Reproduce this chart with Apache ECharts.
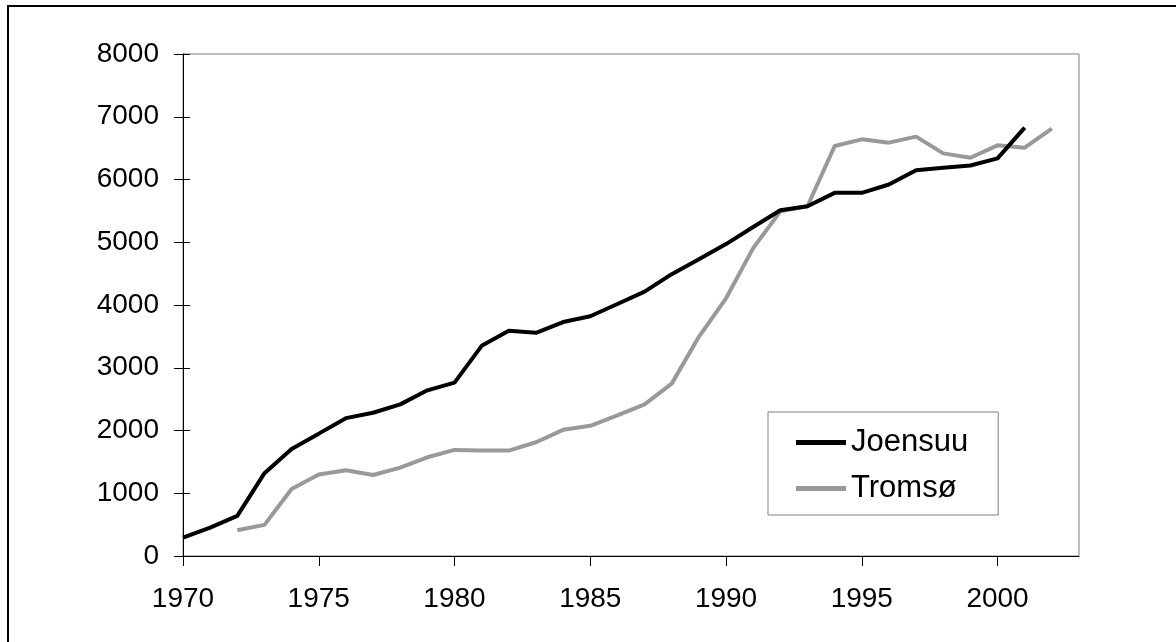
<!DOCTYPE html>
<html>
<head>
<meta charset="utf-8">
<script src="https://cdn.jsdelivr.net/npm/echarts@6/dist/echarts.min.js"></script>
<style>
html,body{margin:0;padding:0;background:#fff;}
#c{width:1176px;height:642px;}
</style>
</head>
<body>
<div id="c"></div>
<script>
const joensuuStart = 1970;
const joensuu = [293, 453, 640, 1320, 1707, 1950, 2197, 2283, 2416, 2640, 2763, 3349, 3589, 3557, 3728, 3820, 4016, 4213, 4491, 4731, 4971, 5243, 5510, 5573, 5787, 5787, 5920, 6149, 6187, 6224, 6336, 6827];
const tromsoStart = 1972;
const tromso = [411, 496, 1067, 1300, 1365, 1291, 1408, 1573, 1691, 1680, 1680, 1813, 2011, 2075, 2240, 2416, 2747, 3493, 4107, 4907, 5493, 5573, 6533, 6640, 6587, 6683, 6416, 6347, 6544, 6507, 6811];
const seriesNames = ['Joensuu', 'Tromsø'];
const xMin = 1970, xMax = 2003, xStep = 5;
const yMin = 0, yMax = 8000, yStep = 1000;

const pairs = (start, arr) => arr.map((v, i) => [start + i, v]);
const FONT = 'Liberation Sans, Arial, sans-serif';

const chart = echarts.init(document.getElementById('c'));
chart.setOption({
  animation: false,
  backgroundColor: '#fff',
  grid: { left: 183, top: 54, right: 97, bottom: 86, show: true, borderColor: '#808080', borderWidth: 1, backgroundColor: 'transparent' },
  xAxis: {
    type: 'value', min: xMin, max: xMax, interval: xStep,
    axisLine: { show: true, lineStyle: { color: '#000', width: 1 } },
    axisTick: { show: true, inside: false, length: 10, lineStyle: { color: '#000' } },
    axisLabel: { color: '#000', fontSize: 28, fontFamily: FONT, margin: 29, showMaxLabel: false,
      formatter: v => String(v) },
    splitLine: { show: false }
  },
  yAxis: [{
    type: 'value', min: yMin, max: yMax, interval: yStep, position: 'left',
    axisLine: { show: true, lineStyle: { color: '#000', width: 1 } },
    axisTick: { show: true, inside: false, length: 9, lineStyle: { color: '#000' } },
    axisLabel: { color: '#000', fontSize: 28, fontFamily: FONT, margin: 24, formatter: v => String(v) },
    splitLine: { show: false }
  }, {
    type: 'value', min: yMin, max: yMax, interval: yStep, position: 'left',
    axisLine: { show: false },
    axisTick: { show: true, inside: true, length: 7, lineStyle: { color: '#000' } },
    axisLabel: { show: false },
    splitLine: { show: false }
  }],
  legend: {
    orient: 'vertical', left: 768, top: 412,
    padding: [15, 30, 11, 28],
    itemGap: 15,
    itemWidth: 50, itemHeight: 5,
    borderColor: '#808080', borderWidth: 1, backgroundColor: '#fff',
    textStyle: { color: '#000', fontSize: 31, fontFamily: FONT, lineHeight: 31 },
    data: [
      { name: seriesNames[0], icon: 'rect', itemStyle: { color: '#000' } },
      { name: seriesNames[1], icon: 'rect', itemStyle: { color: '#999999' } }
    ]
  },
  graphic: [
    { type: 'line', shape: { x1: 7, y1: 6, x2: 1176, y2: 6 }, style: { stroke: '#000', lineWidth: 2 }, silent: true },
    { type: 'line', shape: { x1: 8, y1: 5, x2: 8, y2: 642 }, style: { stroke: '#000', lineWidth: 2 }, silent: true }
  ],
  series: [
    { name: seriesNames[0], type: 'line', data: pairs(joensuuStart, joensuu), showSymbol: false, symbol: 'none',
      lineStyle: { color: '#000', width: 4 }, itemStyle: { color: '#000' }, z: 3 },
    { name: seriesNames[1], type: 'line', data: pairs(tromsoStart, tromso), showSymbol: false, symbol: 'none',
      lineStyle: { color: '#999999', width: 4 }, itemStyle: { color: '#999999' }, z: 2 }
  ]
});
</script>
</body>
</html>
